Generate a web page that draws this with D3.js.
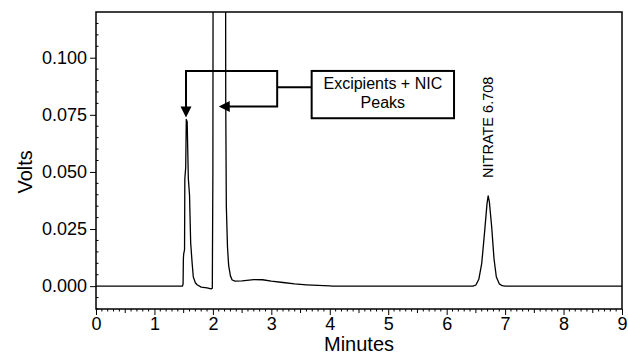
<!DOCTYPE html>
<html>
<head>
<meta charset="utf-8">
<script src="https://cdn.jsdelivr.net/npm/d3@7"></script>
<style>
    body { margin: 0; background: #fff; }
    text { font-family: "Liberation Sans", Arial, sans-serif; fill: #000; }
</style>
</head>
<body>
<div id="chart"></div>
<script>
// Data
const minutes = [0, 1.48, 1.49, 1.495, 1.50, 1.515, 1.52, 1.535, 1.545, 1.56, 1.58, 1.60, 1.62, 1.645, 1.665, 1.70, 1.73, 1.80, 1.90, 1.97, 1.99,
    2.00, 2.01, 2.10, 2.21, 2.22, 2.23, 2.25, 2.27, 2.30, 2.33, 2.38, 2.50, 2.70, 2.85, 3.00, 3.20, 3.40, 3.60, 3.80, 4.00, 4.05,
    6.45, 6.50, 6.55, 6.60, 6.65, 6.69, 6.71, 6.73, 6.77, 6.81, 6.85, 6.90, 6.95, 7.00, 9.0];
const volts = [0, 0, 0.001, 0.012, 0.014, 0.016, 0.047, 0.052, 0.073, 0.072, 0.047, 0.040, 0.019, 0.010, 0.004, 0.0015, 0.0006, -0.0004, -0.0008, -0.0012, -0.0009,
    0.05, 0.30, 0.60, 0.30, 0.08, 0.035, 0.017, 0.009, 0.0045, 0.0027, 0.0022, 0.0023, 0.0029, 0.0028, 0.0022, 0.0016, 0.0010, 0.0006, 0.0003, 0.0001, 0,
    0, 0.0005, 0.003, 0.010, 0.024, 0.036, 0.0395, 0.037, 0.026, 0.012, 0.004, 0.001, 0.0002, 0, 0];

const xTickValues = [0, 1, 2, 3, 4, 5, 6, 7, 8, 9];
const yTickValues = [0, 0.025, 0.05, 0.075, 0.1];
const yTickLabels = ["0.000", "0.025", "0.050", "0.075", "0.100"];
const boxLines = ["Excipients + NIC", "Peaks"];
const peakLabel = "NITRATE 6.708";
const peakTime = 6.708;
const peakVolts = 0.0395;

const dimensions = {
    width: 628,
    height: 354,
    margin: { top: 12, right: 6, bottom: 45, left: 96 }
};
dimensions.containerWidth = dimensions.width - dimensions.margin.left - dimensions.margin.right;
dimensions.containerHeight = dimensions.height - dimensions.margin.top - dimensions.margin.bottom;

const svg = d3.select("#chart")
    .append("svg")
    .attr("width", dimensions.width)
    .attr("height", dimensions.height);

const container = svg.append("g")
    .attr("transform", `translate(${dimensions.margin.left}, ${dimensions.margin.top})`);

// Scales
const xScale = d3.scaleLinear()
    .domain([0, 9])
    .range([0, dimensions.containerWidth]);

const yScale = d3.scaleLinear()
    .domain([-0.01, 0.12])
    .range([dimensions.containerHeight, 0]);

// clip for the trace
svg.append("defs").append("clipPath")
    .attr("id", "plot-clip")
    .append("rect")
    .attr("width", dimensions.containerWidth)
    .attr("height", dimensions.containerHeight);

// Trace
const points = minutes.map((m, i) => [m, volts[i]]);
const line = d3.line()
    .x(d => xScale(d[0]))
    .y(d => yScale(d[1]));

container.append("path")
    .datum(points)
    .attr("clip-path", "url(#plot-clip)")
    .attr("fill", "none")
    .attr("stroke", "#000")
    .attr("stroke-width", 1.3)
    .attr("stroke-linejoin", "round")
    .attr("d", line);

// Frame
container.append("rect")
    .attr("width", dimensions.containerWidth)
    .attr("height", dimensions.containerHeight)
    .attr("fill", "none")
    .attr("stroke", "#000")
    .attr("stroke-width", 1.5);

// X axis: minor ticks every 0.1, medium at .5
const xMinor = d3.range(0, 90).map(d => d / 10).filter(d => d % 1 !== 0);
container.append("g")
    .attr("transform", `translate(0, ${dimensions.containerHeight})`)
    .selectAll("line")
    .data(xMinor)
    .join("line")
        .attr("x1", d => xScale(d))
        .attr("x2", d => xScale(d))
        .attr("y1", 0)
        .attr("y2", d => Math.abs(d % 1 - 0.5) < 1e-6 ? 4 : 2.5)
        .attr("stroke", "#000");

const xAxis = d3.axisBottom(xScale)
    .tickValues(xTickValues)
    .tickSize(6)
    .tickPadding(2)
    .tickFormat(d3.format("d"));

const xAxisGroup = container.append("g")
    .attr("transform", `translate(0, ${dimensions.containerHeight})`)
    .call(xAxis);
xAxisGroup.select(".domain").remove();
xAxisGroup.selectAll("text").style("font-size", "18px").attr("fill", "#000");

xAxisGroup.append("text")
    .attr("x", xScale(4.5))
    .attr("y", 42)
    .attr("text-anchor", "middle")
    .style("font-size", "20px")
    .text("Minutes");

// Y axis
const yMinor = d3.range(-2, 24).map(d => d * 0.005).filter(d => Math.round(d * 1000) % 25 !== 0);
container.append("g")
    .selectAll("line")
    .data(yMinor)
    .join("line")
        .attr("x1", 0)
        .attr("x2", 2.5)
        .attr("y1", d => yScale(d))
        .attr("y2", d => yScale(d))
        .attr("stroke", "#000");

const yAxis = d3.axisLeft(yScale)
    .tickValues(yTickValues)
    .tickSize(6)
    .tickPadding(3)
    .tickFormat((d, i) => yTickLabels[i]);

const yAxisGroup = container.append("g").call(yAxis);
yAxisGroup.select(".domain").remove();
yAxisGroup.selectAll("text").style("font-size", "18px").attr("fill", "#000");

yAxisGroup.append("text")
    .attr("transform", `translate(${-dimensions.margin.left + 32}, ${yScale(0.05)}) rotate(-90)`)
    .attr("text-anchor", "middle")
    .style("font-size", "20px")
    .text("Volts");

// Annotation bracket (placed in data units)
const ann = container.append("g")
    .attr("fill", "none")
    .attr("stroke", "#000")
    .attr("stroke-width", 2);

const bx0 = xScale(1.54), bx1 = xScale(3.1), bxTip = xScale(2.10);
const byTop = yScale(0.0942), byBot = yScale(0.0786), byMid = yScale(0.0871);
const boxX0 = xScale(3.69), boxX1 = xScale(6.126);
const boxY0 = yScale(0.0942), boxY1 = yScale(0.0735);
const downTip = yScale(0.0738);

ann.append("path")
    .attr("d", `M${bx0},${downTip - 9} V${byTop} H${bx1} V${byBot} H${bxTip + 9}`);
ann.append("path")
    .attr("d", `M${bx1},${byMid} H${boxX0}`);
ann.append("rect")
    .attr("x", boxX0)
    .attr("y", boxY0)
    .attr("width", boxX1 - boxX0)
    .attr("height", boxY1 - boxY0)
    .attr("fill", "#fff");

// arrow heads
container.append("path")
    .attr("d", `M${bx0 - 5.5},${downTip - 11} L${bx0 + 5.5},${downTip - 11} L${bx0},${downTip} Z`)
    .attr("fill", "#000");
container.append("path")
    .attr("d", `M${bxTip},${byBot} L${bxTip + 11},${byBot - 5.5} L${bxTip + 11},${byBot + 5.5} Z`)
    .attr("fill", "#000");

const boxCx = (boxX0 + boxX1) / 2;
container.append("text")
    .attr("x", boxCx)
    .attr("y", boxY0 + 18)
    .attr("text-anchor", "middle")
    .style("font-size", "16px")
    .selectAll("tspan")
    .data(boxLines)
    .join("tspan")
        .attr("x", boxCx)
        .attr("dy", (d, i) => i === 0 ? 0 : 19)
        .text(d => d);

// Nitrate peak label
container.append("text")
    .attr("transform", `translate(${xScale(peakTime) + 5}, ${yScale(peakVolts) - 18}) rotate(-90)`)
    .attr("text-anchor", "start")
    .style("font-size", "14.5px")
    .text(peakLabel);
</script>
</body>
</html>
